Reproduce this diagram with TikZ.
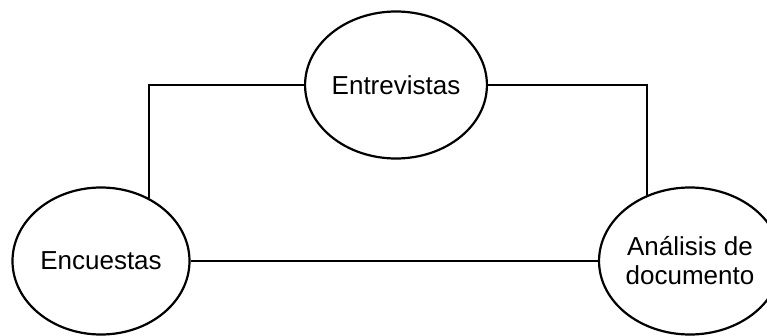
\documentclass[tikz,border=0pt]{standalone}
\usepackage{fontspec}
\setmainfont{Liberation Sans}
\usetikzlibrary{shapes.geometric}

\begin{document}
\begin{tikzpicture}[x=1pt,y=1pt,line width=2.2pt,
    method/.style={ellipse,draw,fill=white,inner sep=0pt,
      minimum width=177pt,minimum height=147pt,align=center,
      font=\fontsize{26}{29}\selectfont}]
  \clip (0,0) rectangle (767,335);
  \node (ent) [method] at (396,250) {Entrevistas};
  \node (enc) [method] at (101,74) {Encuestas};
  \node (ana) [method] at (690,74) {Análisis de\\documento};

  \draw (ent.west) -| (enc.53);
  \draw (ent.east) -| (ana.123);
  \draw (enc.east) -- (ana.west);
\end{tikzpicture}
\end{document}
